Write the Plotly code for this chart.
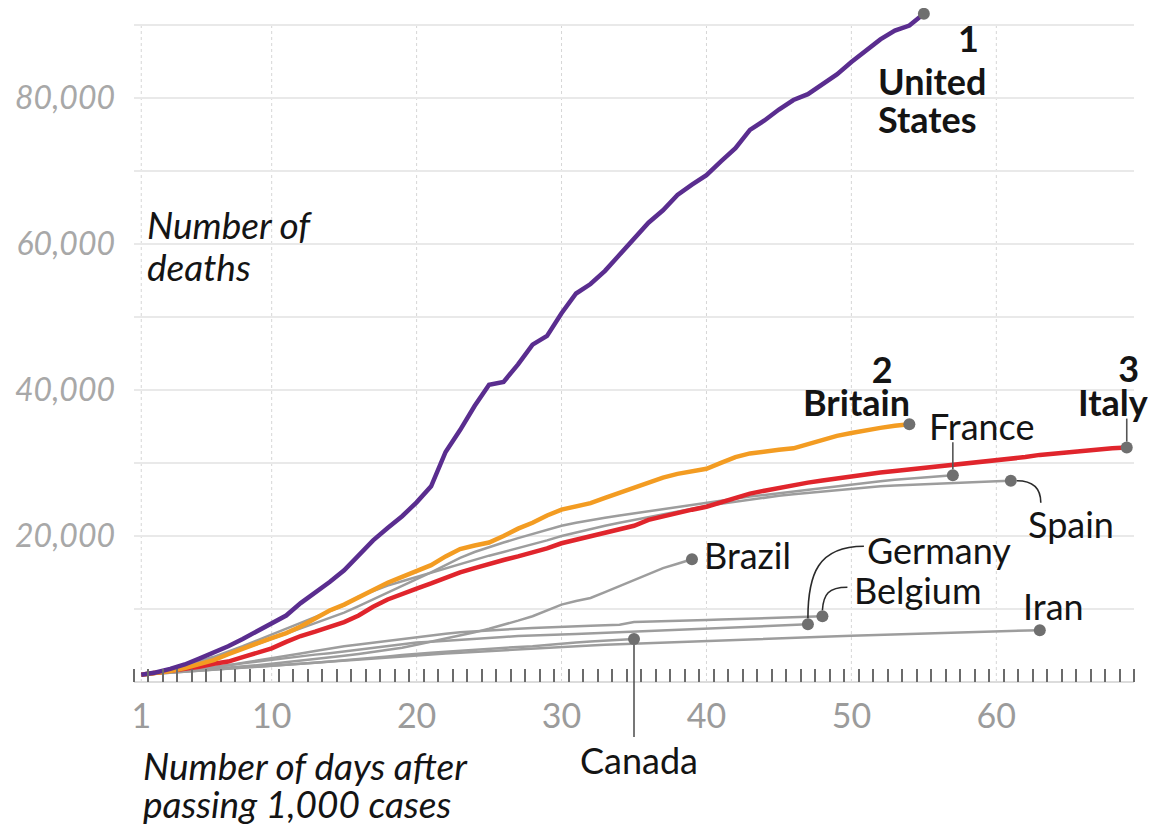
import plotly.graph_objects as go

# ---------------- data ----------------
x_tick_days = [1, 10, 20, 30, 40, 50, 60]
y_tick_vals = [0, 10000, 20000, 30000, 40000, 50000, 60000, 70000, 80000, 90000]
y_tick_text = ["", "", "20,000", "", "40,000", "", "60,000", "", "80,000", ""]

united_states = [1000, 1300, 1800, 2400, 3200, 4000, 4900, 5900, 7000, 8100,
                 9100, 10800, 12200, 13700, 15300, 17300, 19400, 21100, 22700, 24600,
                 26800, 31500, 34500, 37800, 40700, 41100, 43500, 46200, 47400, 50500,
                 53200, 54500, 56300, 58500, 60800, 62900, 64600, 66700, 68100, 69400,
                 71300, 73100, 75600, 76900, 78400, 79700, 80500, 81900, 83200, 84900,
                 86500, 88000, 89200, 89900, 91500]

britain = [1000, 1200, 1500, 1900, 2400, 3000, 3800, 4600, 5300, 6000,
           6700, 7600, 8700, 9800, 10600, 11600, 12600, 13600, 14400, 15200,
           16000, 17200, 18200, 18700, 19100, 20000, 21000, 21800, 22800, 23600,
           24100, 24500, 25200, 25900, 26500, 27300, 28000, 28500, 28800, 29200,
           30000, 30800, 31300, 31600, 31800, 32000, 32600, 33200, 33700, 34100,
           34500, 34800, 35100, 35300]

italy = [1000, 1250, 1500, 1800, 2100, 2500, 2800, 3400, 4000, 4600,
         5500, 6300, 6900, 7500, 8200, 9100, 10300, 11300, 12100, 12800,
         13500, 14300, 15000, 15600, 16200, 16700, 17200, 17700, 18300, 19000,
         19500, 20000, 20400, 20900, 21400, 22200, 22700, 23200, 23600, 24000,
         24600, 25200, 25800, 26200, 26600, 27000, 27300, 27600, 27900, 28200,
         28400, 28700, 28900, 29100, 29300, 29500, 29700, 29900, 30100, 30300,
         30500, 30800, 31100, 31300, 31500, 31700, 31800, 32000, 32100]

france = [1000, 1300, 1700, 2200, 2700, 3300, 3900, 4500, 5200, 5900,
          6600, 7300, 8000, 8700, 9500, 10400, 11300, 12200, 13200, 14100,
          15000, 16000, 17000, 17800, 18500, 19100, 19700, 20300, 20900, 21400,
          21800, 22200, 22500, 22800, 23100, 23400, 23700, 24000, 24300, 24600,
          24850, 25100, 25400, 25600, 25850, 26100, 26300, 26550, 26800, 27100,
          27300, 27500, 27700, 27850, 28000, 28150, 28300]

spain = [1000, 1350, 1750, 2300, 2800, 3450, 4150, 4900, 5700, 6500,
         7300, 8100, 8900, 9700, 10500, 11700, 12500, 13200, 13800, 14400,
         15000, 15600, 16100, 16700, 17300, 17800, 18300, 18800, 19400, 20000,
         20500, 20900, 21400, 21800, 22200, 22600, 22900, 23300, 23700, 24100,
         24400, 24700, 25000, 25300, 25500, 25700, 25900, 26100, 26300, 26500,
         26700, 26800, 26900, 27000, 27100, 27200, 27300, 27400, 27450, 27500,
         27550]

brazil = [1000, 1150, 1300, 1450, 1600, 1750, 1900, 2100, 2300, 2500,
          2700, 2900, 3100, 3350, 3600, 3850, 4100, 4400, 4700, 5100,
          5500, 5900, 6300, 6800, 7300, 7800, 8400, 9000, 9800, 10600,
          11100, 11500, 12300, 13100, 13900, 14800, 15600, 16200, 16800]

germany = [1000, 1200, 1400, 1600, 1800, 2050, 2300, 2550, 2800, 3000,
           3250, 3500, 3750, 3950, 4200, 4450, 4700, 4950, 5200, 5400,
           5500, 5650, 5750, 5850, 6000, 6150, 6300, 6400, 6450, 6500,
           6580, 6660, 6740, 6820, 6900, 6980, 7060, 7140, 7220, 7300,
           7390, 7480, 7570, 7660, 7740, 7820, 7900]

belgium = [1000, 1250, 1450, 1600, 1700, 2000, 2300, 2600, 2950, 3300,
           3600, 3900, 4250, 4600, 4900, 5150, 5400, 5650, 5900, 6200,
           6400, 6600, 6800, 6950, 7100, 7200, 7300, 7400, 7500, 7600,
           7650, 7700, 7780, 7850, 8200, 8280, 8350, 8400, 8450, 8500,
           8560, 8620, 8680, 8740, 8800, 8860, 8930, 9000]

iran = [1000, 1140, 1290, 1430, 1570, 1710, 1850, 2000, 2150, 2300,
        2440, 2580, 2720, 2860, 3000, 3130, 3260, 3390, 3520, 3650,
        3770, 3890, 4010, 4130, 4250, 4370, 4490, 4610, 4730, 4850,
        4930, 5010, 5090, 5170, 5250, 5330, 5410, 5480, 5550, 5620,
        5700, 5770, 5840, 5910, 5990, 6070, 6150, 6210, 6270, 6330,
        6390, 6450, 6510, 6570, 6630, 6690, 6750, 6810, 6870, 6930,
        6990, 7050, 7100]

canada = [1000, 1150, 1300, 1450, 1600, 1750, 1880, 2000, 2100, 2200,
          2350, 2500, 2650, 2800, 2950, 3100, 3300, 3500, 3700, 3900,
          4000, 4150, 4300, 4400, 4550, 4650, 4800, 4900, 5100, 5300,
          5400, 5550, 5650, 5800, 5900]

# ---------------- styling / geometry ----------------
FONT = "Lato"
OFF = 8                      # page offset of the figure (body margin)
W, H = 1148, 821
ML, MR, MT, MB = 126, 22, 0, 147
PW, PH = W - ML - MR, H - MT - MB
X_RANGE = [0.5, 69.5]
Y_RANGE = [0, 92300]
SX = (X_RANGE[1] - X_RANGE[0]) / PW      # days per pixel
SY = (Y_RANGE[1] - Y_RANGE[0]) / PH      # deaths per pixel
GRAY_LINE = "#9d9d9d"
DOT = "#6f6f6f"
NB = "\u00a0"


def days(s):
    return list(range(1, len(s) + 1))


fig = go.Figure()

grays = [france, spain, brazil, germany, belgium, iran, canada]
for s in grays:
    fig.add_trace(go.Scatter(x=days(s), y=s, mode="lines",
                             line=dict(color=GRAY_LINE, width=2.5),
                             hoverinfo="skip", showlegend=False))

for s, c in [(italy, "#e0252c"), (britain, "#f39c22"), (united_states, "#5a2d8f")]:
    fig.add_trace(go.Scatter(x=days(s), y=s, mode="lines",
                             line=dict(color=c, width=4.5),
                             hoverinfo="skip", showlegend=False))

all_series = [united_states, britain, italy, france, spain, brazil, germany,
              belgium, iran, canada]
fig.add_trace(go.Scatter(x=[len(s) for s in all_series],
                         y=[s[-1] for s in all_series], mode="markers",
                         marker=dict(size=12, color=DOT), cliponaxis=False,
                         hoverinfo="skip", showlegend=False))

# vertical dotted grid lines
for d in x_tick_days:
    fig.add_shape(type="line", xref="x", yref="y", x0=d, x1=d, y0=0,
                  y1=y_tick_vals[-1], layer="below",
                  line=dict(color="#d6d6d6", width=1, dash="dot"))


# connectors (pixel offsets from an end point)
def curve(s, offs, color="#2a2a2a"):
    d0, v0 = len(s), s[-1]
    pts = [(d0 + dx * SX, v0 - dy * SY) for dx, dy in offs]
    p = "M {},{} C {},{} {},{} {},{}".format(*[c for pt in pts for c in pt])
    fig.add_shape(type="path", xref="x", yref="y", path=p,
                  line=dict(color=color, width=1.6))


def vline(s, up_px, color="#555555"):
    d0, v0 = len(s), s[-1]
    fig.add_shape(type="line", xref="x", yref="y", x0=d0, x1=d0,
                  y0=v0 + 6 * SY, y1=v0 + up_px * SY,
                  line=dict(color=color, width=1.6))


vline(italy, 29)
vline(france, 33)
curve(spain, [(6, 0), (20, 0), (30, 5), (30, 22)])
curve(germany, [(0, -6), (0, -50), (10, -78), (56, -78)])
curve(belgium, [(0, -6), (1, -22), (6, -29), (25, -29)])
# Canada: runs below the plot, so y in paper units
fig.add_shape(type="line", xref="x", yref="paper", x0=len(canada), x1=len(canada),
              y0=(canada[-1] - 6 * SY) / (Y_RANGE[1] - Y_RANGE[0]),
              y1=(682 - 737) / PH, line=dict(color="#555555", width=1.6))


def ann(text, px, py, anchor="left", size=36, bold=False, italic=False,
        color="#141414", line_gap=None):
    """px, py: target position in page pixels.  For multi-line text the
    line gap (px) is set through the base font size, glyphs through a span."""
    base = size if line_gap is None else line_gap / 1.3
    if line_gap is not None:
        text = "<br>".join('<span style="font-size:{}px">{}</span>'.format(size, t)
                           for t in text.split("<br>"))
    fig.add_annotation(x=(px - OFF - ML) / PW, y=(OFF + MT + PH - py) / PH,
                       xref="paper", yref="paper", text=text, showarrow=False,
                       xanchor=anchor, yanchor="middle", align=anchor
                       if anchor != "center" else "center",
                       font=dict(family=FONT, size=base, color=color,
                                 weight="bold" if bold else "normal",
                                 style="italic" if italic else "normal"))


ann("Number of<br>deaths", 145, 245, italic=True, size=37, line_gap=42)
ann("Number of days after<br>passing 1,000 cases", 141, 785, italic=True,
    size=37, line_gap=38)

ann("1", 968, 38, anchor="center", bold=True, size=36)
ann("United<br>States", 876, 100, bold=True, size=36, line_gap=38)
ann("2" + NB + NB + "<br>Britain", 912, 385, anchor="right", bold=True,
    size=36, line_gap=33)
ann("3" + NB + "<br>Italy", 1150, 385, anchor="right", bold=True, size=36,
    line_gap=34)

ann("France", 927, 426)
ann("Spain", 1026, 524)
ann("Brazil", 702, 555)
ann("Germany", 865, 550)
ann("Belgium", 852, 590)
ann("Iran", 1021, 606)
ann("Canada", 639, 760, anchor="center")

fig.update_layout(width=W, height=H, margin=dict(l=ML, r=MR, t=MT, b=MB),
                  paper_bgcolor="white", plot_bgcolor="white",
                  showlegend=False, font=dict(family=FONT))

fig.update_xaxes(range=X_RANGE, tickmode="array", tickvals=x_tick_days,
                 ticktext=[str(d) for d in x_tick_days], ticks="",
                 showgrid=False, zeroline=False, showline=False,
                 tickfont=dict(family=FONT, size=34, color="#9b9b9b"),
                 ticklabelstandoff=11,
                 minor=dict(tickmode="linear", tick0=0.5, dtick=1,
                            ticks="inside", ticklen=13, tickwidth=1.5,
                            tickcolor="#6b6b6b", showgrid=False))

fig.update_yaxes(range=Y_RANGE, tickmode="array", tickvals=y_tick_vals,
                 ticktext=y_tick_text, ticks="", showgrid=True,
                 gridcolor="#e9e9e9", gridwidth=1.5, zeroline=True,
                 zerolinecolor="#dcdcdc", zerolinewidth=2,
                 tickfont=dict(family=FONT, size=32, color="#a8a8a8",
                               style="italic"),
                 ticklabelstandoff=18)

fig.write_html("out.html")
